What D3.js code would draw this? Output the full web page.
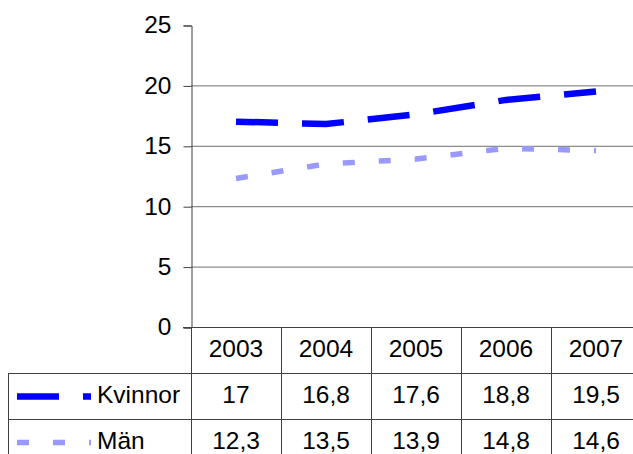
<!DOCTYPE html>
<html>
<head>
<meta charset="utf-8">
<script src="https://cdn.jsdelivr.net/npm/d3@7"></script>
<style>
  body { margin: 0; background: #fff; }
  svg { display: block; }
  text { font-family: "Liberation Sans", Arial, sans-serif; font-size: 24.5px; fill: #000; }
</style>
</head>
<body>
<script>
var years = ["2003", "2004", "2005", "2006", "2007"];
var kvinnor = [17, 16.8, 17.6, 18.8, 19.5];
var man = [12.3, 13.5, 13.9, 14.8, 14.6];
var yTicks = [0, 5, 10, 15, 20, 25];

var series = [
    { name: "Kvinnor", values: kvinnor, color: "#0000ff", width: 6.5, dash: "42,24" },
    { name: "Män", values: man, color: "#9999ff", width: 5.5, dash: "12,24" }
];

var width = 633, height = 454;
// note: "top" is taken by window.top, so plot edges get their own names
var plotLeft = 191, plotRight = 641, plotTop = 25, plotBottom = 327;
var rowH = 46;

var svg = d3.select("body").append("svg")
    .attr("width", width)
    .attr("height", height);

var x = d3.scaleBand().domain(years).range([plotLeft, plotRight]);
var y = d3.scaleLinear().domain([0, 25]).range([plotBottom, plotTop]);

// gridlines
svg.selectAll(".grid")
    .data(yTicks.filter(function(d) { return d > 0 && d < 25; }))
    .enter().append("line")
    .attr("x1", plotLeft).attr("x2", plotRight)
    .attr("y1", function(d) { return y(d) + 0.5; })
    .attr("y2", function(d) { return y(d) + 0.5; })
    .attr("stroke", "#707070")
    .attr("stroke-width", 1);

// y axis
var yAxis = d3.axisLeft(y).tickValues(yTicks).tickSize(8).tickPadding(12);
var ga = svg.append("g")
    .attr("transform", "translate(" + (plotLeft + 0.5) + ",0.5)")
    .call(yAxis);
ga.attr("font-family", null).attr("font-size", null);
ga.select(".domain").attr("stroke", "#404040");
ga.selectAll(".tick line").attr("stroke", "#404040");
ga.selectAll(".tick text").attr("dy", "0.3em");

// lines
var line = d3.line()
    .x(function(d, i) { return x(years[i]) + x.bandwidth() / 2; })
    .y(function(d) { return y(d); });

svg.selectAll(".series")
    .data(series)
    .enter().append("path")
    .attr("d", function(s) { return line(s.values); })
    .attr("fill", "none")
    .attr("stroke", function(s) { return s.color; })
    .attr("stroke-width", function(s) { return s.width; })
    .attr("stroke-dasharray", function(s) { return s.dash; });

// data table
var tbl = svg.append("g").attr("stroke", "#404040").attr("stroke-width", 1);
tbl.append("line").attr("x1", plotLeft - 8).attr("x2", plotRight).attr("y1", plotBottom + 0.5).attr("y2", plotBottom + 0.5);
tbl.append("line").attr("x1", plotLeft + 0.5).attr("x2", plotLeft + 0.5).attr("y1", plotBottom).attr("y2", height);
series.forEach(function(s, i) {
    var ty = plotBottom + rowH * (i + 1) + 0.5;
    tbl.append("line").attr("x1", 8.5).attr("x2", plotRight).attr("y1", ty).attr("y2", ty);
});
tbl.append("line").attr("x1", 8.5).attr("x2", 8.5).attr("y1", plotBottom + rowH).attr("y2", height);
tbl.selectAll(".sep")
    .data(years.slice(1))
    .enter().append("line")
    .attr("x1", function(d) { return x(d) + 0.5; })
    .attr("x2", function(d) { return x(d) + 0.5; })
    .attr("y1", plotBottom).attr("y2", height);

svg.selectAll(".yr")
    .data(years)
    .enter().append("text")
    .attr("x", function(d) { return x(d) + x.bandwidth() / 2; })
    .attr("y", plotBottom + 29.5)
    .attr("text-anchor", "middle")
    .text(function(d) { return d; });

series.forEach(function(s, i) {
    var rowTop = plotBottom + rowH * (i + 1);
    var ly = rowTop + 23.5;
    svg.append("line")
        .attr("x1", 17).attr("x2", 91)
        .attr("y1", ly).attr("y2", ly)
        .attr("stroke", s.color)
        .attr("stroke-width", s.width)
        .attr("stroke-dasharray", s.dash);
    svg.append("text")
        .attr("x", 97)
        .attr("y", rowTop + 30)
        .text(s.name);
    svg.selectAll(".v" + i)
        .data(s.values)
        .enter().append("text")
        .attr("x", function(d, j) { return x(years[j]) + x.bandwidth() / 2; })
        .attr("y", rowTop + 30)
        .attr("text-anchor", "middle")
        .text(function(d) { return String(d).replace(".", ","); });
});
</script>
</body>
</html>
